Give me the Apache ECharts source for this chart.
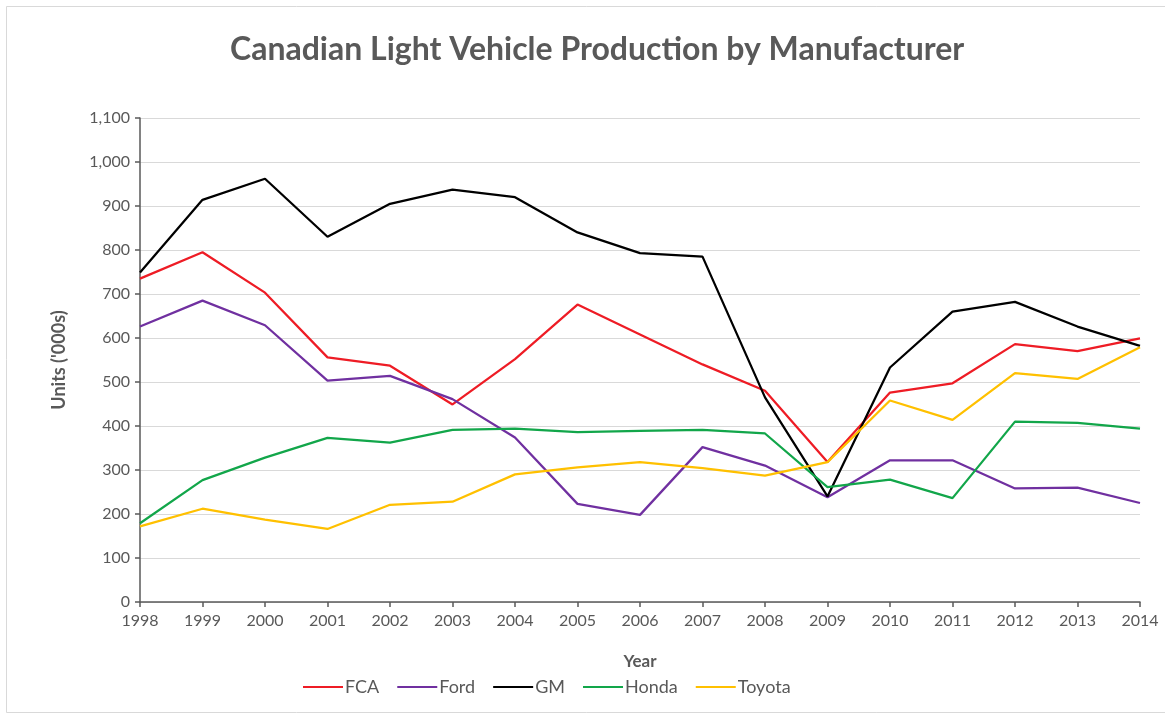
<!DOCTYPE html>
<html>
<head>
<meta charset="utf-8">
<script src="https://cdn.jsdelivr.net/npm/echarts@6/dist/echarts.min.js"></script>
<style>
html,body{margin:0;padding:0;background:#fff;}
#chart{width:1165px;height:717px;}
</style>
</head>
<body>
<div id="chart"></div>
<script>
const years = ['1998','1999','2000','2001','2002','2003','2004','2005','2006','2007','2008','2009','2010','2011','2012','2013','2014'];
const fca    = [735, 795, 703, 556, 537, 449, 552, 676, 608, 540, 480, 318, 476, 497, 586, 570, 599];
const ford   = [626, 685, 629, 503, 514, 461, 374, 223, 198, 352, 310, 238, 322, 322, 258, 260, 225];
const gm     = [749, 914, 962, 830, 905, 937, 920, 840, 793, 785, 465, 240, 533, 660, 682, 626, 582];
const honda  = [179, 277, 328, 373, 362, 391, 394, 386, 389, 391, 383, 261, 278, 236, 410, 407, 394];
const toyota = [172, 212, 187, 166, 221, 228, 290, 306, 318, 304, 287, 318, 458, 414, 520, 507, 579];
const yTicks = [0,100,200,300,400,500,600,700,800,900,1000,1100];

const names = ['FCA','Ford','GM','Honda','Toyota'];
const colors = ['#ee1c25','#7030a0','#000000','#12a64a','#ffc000'];
const dataSets = [fca, ford, gm, honda, toyota];

const chart = echarts.init(document.getElementById('chart'));
const txt = '#595959';
const font = 'Lato, "Open Sans", sans-serif';
chart.setOption({
  animation: false,
  backgroundColor: '#fff',
  textStyle: {fontFamily: font},
  title: {
    text: 'Canadian Light Vehicle Production by Manufacturer',
    left: 225, top: 29,
    textStyle: {fontFamily: font, fontSize: 32, fontWeight: 'bold', color: txt}
  },
  graphic: [{
    type: 'rect', shape: {x: 6.5, y: 6.5, width: 1170, height: 706},
    style: {fill: 'none', stroke: '#d9d9d9', lineWidth: 1}, silent: true
  }],
  legend: {
    top: 673, left: 298, itemGap: 18, itemWidth: 40, itemHeight: 2,
    icon: 'rect',
    textStyle: {fontFamily: font, fontSize: 18, color: txt, padding: [0,0,0,-3]},
    data: names
  },
  grid: {left: 140, right: 25, top: 118, bottom: 115, containLabel: false},
  xAxis: {
    type: 'category', data: years, boundaryGap: false,
    name: 'Year', nameLocation: 'middle', nameGap: 51,
    nameTextStyle: {fontFamily: font, fontSize: 17, fontWeight: 'bold', color: txt},
    axisLine: {lineStyle: {color: '#595959', width: 1.5}},
    axisTick: {show: true, length: 5, lineStyle: {color: '#595959', width: 1.5}},
    axisLabel: {color: txt, fontSize: 16, margin: 11}
  },
  yAxis: {
    type: 'value', min: 0, max: 1100, interval: 100,
    name: "Units ('000s)", nameLocation: 'middle', nameGap: 72,
    nameTextStyle: {fontFamily: font, fontSize: 18, fontWeight: 'bold', color: txt},
    axisLine: {show: true, lineStyle: {color: '#595959', width: 1.5}},
    axisTick: {show: true, length: 5, lineStyle: {color: '#595959', width: 1.5}},
    axisLabel: {color: txt, fontSize: 16, margin: 10,
      formatter: v => yTicks.includes(v) ? v.toLocaleString('en-US') : ''},
    splitLine: {lineStyle: {color: '#d9d9d9', width: 1}}
  },
  series: names.map((n, i) => ({
    name: n, type: 'line', data: dataSets[i], symbol: 'none',
    lineStyle: {color: colors[i], width: 2.25}, itemStyle: {color: colors[i]}
  }))
});
</script>
</body>
</html>
